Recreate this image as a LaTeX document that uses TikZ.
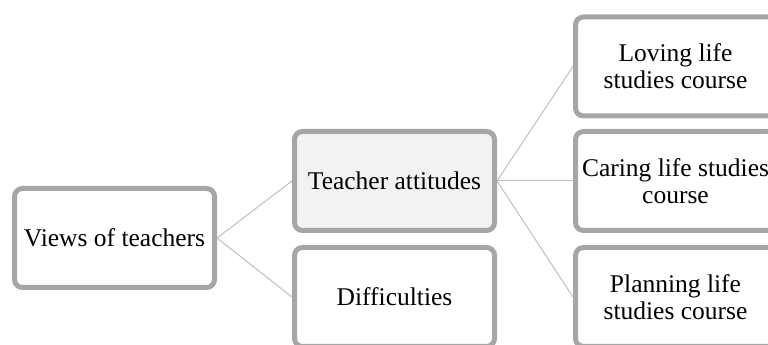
\documentclass[tikz,border=0pt]{standalone}
\usepackage{fontspec}
\setmainfont{Liberation Serif}
\usetikzlibrary{backgrounds}
\definecolor{boxborder}{RGB}{166,166,166}
\definecolor{linkgray}{RGB}{191,191,191}
\definecolor{lightfill}{RGB}{242,242,242}
\begin{document}
\begin{tikzpicture}[x=1pt,y=1pt,
  box/.style={draw=boxborder, line width=5pt, rounded corners=8pt, fill=white,
    minimum width=200pt, minimum height=99pt, inner sep=0pt, align=center,
    font=\fontsize{25.5}{27}\selectfont, text=black},
  link/.style={draw=linkgray, line width=1pt}]
\useasboundingbox (0,0) rectangle (768,345);
\clip (0,0) rectangle (768,345);
\node[box] (views) at (114.5,107) {Views of teachers};
\node[box, fill=lightfill] (ta) at (394.5,164) {Teacher attitudes};
\node[box] (diff) at (394.5,48) {Difficulties};
\node[box] (lov) at (675.5,278.5) {Loving life\\studies course};
\node[box] (car) at (675.5,164) {Caring life studies\\course};
\node[box] (plan) at (675.5,48) {Planning life\\studies course};
\begin{scope}[on background layer]
\draw[link] (views.east) -- (ta.west);
\draw[link] (views.east) -- (diff.west);
\draw[link] (ta.east) -- (lov.west);
\draw[link] (ta.east) -- (car.west);
\draw[link] (ta.east) -- (plan.west);
\end{scope}
\end{tikzpicture}
\end{document}
